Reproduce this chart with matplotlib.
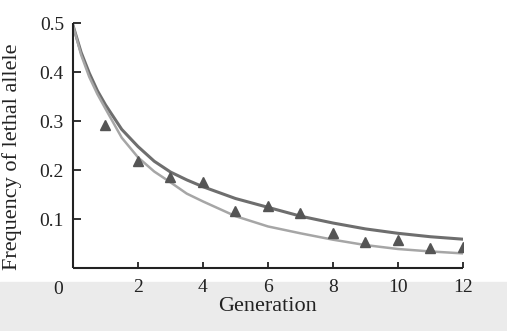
import matplotlib
matplotlib.use("Agg")
import matplotlib.pyplot as plt
from matplotlib.patches import Rectangle

# observed frequency of the lethal allele per generation
generations = [1, 2, 3, 4, 5, 6, 7, 8, 9, 10, 11, 12]
observed = [0.292, 0.218, 0.186, 0.176, 0.116, 0.127, 0.112, 0.071, 0.054, 0.057, 0.041, 0.043]

# expected curves, read at these generations
curve_t = [0, 0.25, 0.5, 0.75, 1, 1.5, 2, 2.5, 3, 3.5, 4, 5, 6, 7, 8, 9, 10, 11, 12]
curve_upper = [0.495, 0.44, 0.398, 0.362, 0.333, 0.283, 0.248, 0.218, 0.196, 0.18, 0.166,
               0.142, 0.124, 0.106, 0.092, 0.08, 0.071, 0.064, 0.059]
curve_lower = [0.495, 0.435, 0.39, 0.355, 0.325, 0.266, 0.226, 0.197, 0.175, 0.152, 0.136,
               0.106, 0.085, 0.071, 0.058, 0.047, 0.039, 0.034, 0.030]

xtick_vals = [2, 4, 6, 8, 10, 12]
ytick_vals = [0.1, 0.2, 0.3, 0.4, 0.5]

plt.rcParams['font.family'] = ['Liberation Serif', 'DejaVu Serif']

fig = plt.figure(figsize=(5.07, 3.31), dpi=100)
# grey strip along the bottom of the page
fig.patches.append(Rectangle((0, 0), 1, 0.148, transform=fig.transFigure,
                             color='#ebebeb', zorder=-5))
ax = fig.add_axes([0.144, 0.190, 0.769, 0.7405])
ax.patch.set_alpha(0)

ax.plot(curve_t, curve_upper, color='#6e6e6e', lw=2.2, zorder=2)
ax.plot(curve_t, curve_lower, color='#a6a6a6', lw=1.8, zorder=2)
ax.plot(generations, observed, ls='none', marker='^', ms=7.5, color='#555555', zorder=3)

ax.set_xlim(0, 12)
ax.set_ylim(0, 0.5)
ax.set_xticks(xtick_vals)
ax.set_xticklabels([str(v) for v in xtick_vals])
ax.set_yticks(ytick_vals)
ax.set_yticklabels([f"{v:.1f}" for v in ytick_vals])
ax.annotate("0", xy=(0, 0), xytext=(-11, -9), textcoords='offset points',
            ha='center', va='top', fontsize=14, color='#222222')

for side in ['top', 'right']:
    ax.spines[side].set_visible(False)
for side in ['left', 'bottom']:
    ax.spines[side].set_linewidth(1.5)
    ax.spines[side].set_color('#222222')
    ax.spines[side].set_capstyle('butt')

ax.tick_params(axis='both', direction='in', width=1.3, color='#222222',
               labelsize=14, labelcolor='#222222')
ax.tick_params(axis='x', length=4.5, pad=8)
ax.tick_params(axis='y', length=6, pad=6.5)

ax.set_xlabel("Generation", fontsize=16, color='#222222', labelpad=0.5)
ax.set_ylabel("Frequency of lethal allele", fontsize=16, color='#222222')
ax.yaxis.set_label_coords(-0.131, 0.455)

plt.savefig("out.png", dpi=100)
